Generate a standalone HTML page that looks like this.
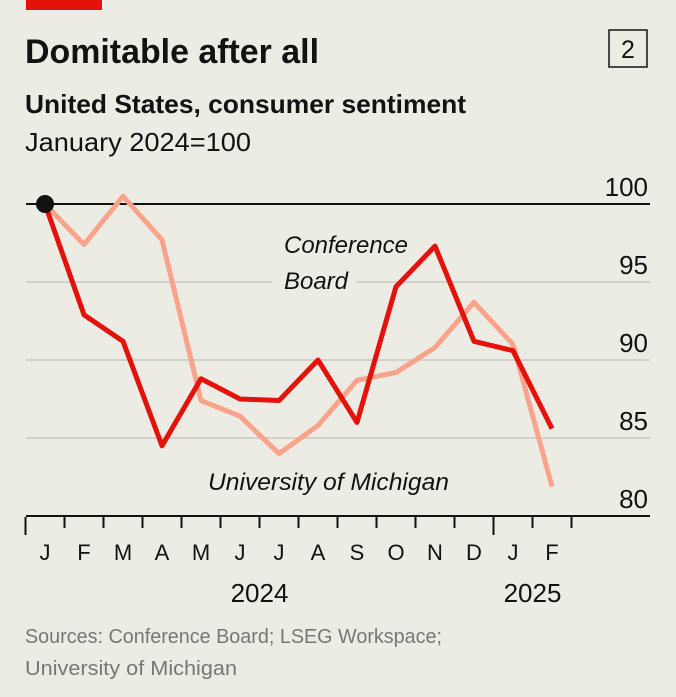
<!DOCTYPE html>
<html><head><meta charset="utf-8"><style>
html,body{margin:0;padding:0;background:#edece4;}
svg{display:block;font-family:"Liberation Sans",sans-serif;}
</style></head><body>
<svg width="676" height="697" viewBox="0 0 676 697">
<rect x="26" y="0" width="76" height="10" fill="#e3120b"/>
<text x="25" y="63" font-size="34" font-weight="bold" fill="#121212" textLength="294" lengthAdjust="spacingAndGlyphs">Domitable after all</text>
<rect x="609" y="30" width="38" height="37" fill="none" stroke="#121212" stroke-width="1.5"/>
<text x="628" y="58" font-size="25" text-anchor="middle" fill="#121212">2</text>
<text x="25" y="113" font-size="26" font-weight="bold" fill="#121212" textLength="441" lengthAdjust="spacingAndGlyphs">United States, consumer sentiment</text>
<text x="25" y="151" font-size="26" fill="#121212" textLength="226" lengthAdjust="spacingAndGlyphs">January 2024=100</text>
<g id="grid"></g>
<g id="xaxis"></g>
<g id="series"></g>
<rect x="272" y="265" width="84" height="32" fill="#edece4"/>
<text x="284" y="253" font-size="24" font-style="italic" fill="#121212" textLength="124" lengthAdjust="spacingAndGlyphs">Conference</text>
<text x="284" y="289" font-size="24" font-style="italic" fill="#121212" textLength="64" lengthAdjust="spacingAndGlyphs">Board</text>
<text x="208" y="490" font-size="24" font-style="italic" fill="#121212" textLength="241" lengthAdjust="spacingAndGlyphs">University of Michigan</text>
<text x="25" y="643" font-size="20" fill="#767676" textLength="417" lengthAdjust="spacingAndGlyphs">Sources: Conference Board; LSEG Workspace;</text>
<text x="25" y="675" font-size="20" fill="#767676" textLength="212" lengthAdjust="spacingAndGlyphs">University of Michigan</text>
</svg>
<script>
const months = ["J","F","M","A","M","J","J","A","S","O","N","D","J","F"];
const conferenceBoard = [100,92.9,91.2,84.5,88.8,87.5,87.4,90.0,86.0,94.7,97.3,91.2,90.6,85.6];
const michigan = [100,97.4,100.5,97.7,87.4,86.4,84.0,85.8,88.7,89.2,90.8,93.7,91.0,81.9];
const yTicks = [80,85,90,95,100];
const years = [{label:"2024",idx:5.5},{label:"2025",idx:12.5}];
const NS="http://www.w3.org/2000/svg";
const x = i => 45 + i*39;
const y = v => 204 + (100 - v)*15.6;
function mk(tag, attrs, parent){const e=document.createElementNS(NS,tag);for(const k in attrs)e.setAttribute(k,attrs[k]);parent.appendChild(e);return e;}
const grid=document.getElementById('grid'), xa=document.getElementById('xaxis'), ser=document.getElementById('series');
yTicks.forEach(v=>{
  const l=mk('line',{x1:26,x2:650,y1:y(v),y2:y(v),stroke:(v===80||v===100)?'#121212':'#c9c8c0','stroke-width':(v===80||v===100)?2:1.5},grid);
  
  
  const t=mk('text',{x:648,y:y(v)-8,'font-size':26,'text-anchor':'end',fill:'#121212'},grid);
  t.textContent=v;
  
  
});
for(let i=0;i<=months.length;i++){
  const tx=x(i)-19.5, tall=(i===0||i===12);
  const t=mk('line',{x1:tx,x2:tx,y1:517,y2:tall?535:528,stroke:'#121212','stroke-width':2},xa);
  
  
}
months.forEach((m,i)=>{
  const t=mk('text',{x:x(i),y:560,'font-size':22,'text-anchor':'middle',fill:'#121212'},xa);
  t.textContent=m;
  
  
});
years.forEach(yr=>{
  const t=mk('text',{x:x(yr.idx),y:602,'font-size':26,'text-anchor':'middle',fill:'#121212'},xa);
  t.textContent=yr.label;
  
  
});
function pts(arr){return arr.map((v,i)=>x(i)+','+y(v)).join(' ');}
const pm=mk('polyline',{points:pts(michigan),fill:'none',stroke:'#f9a38a','stroke-width':5,'stroke-linejoin':'round'},ser);


const pc=mk('polyline',{points:pts(conferenceBoard),fill:'none',stroke:'#e3120b','stroke-width':5,'stroke-linejoin':'round'},ser);


const d=mk('circle',{cx:x(0),cy:y(conferenceBoard[0]),r:9,fill:'#121212'},ser);


</script>
</body></html>
